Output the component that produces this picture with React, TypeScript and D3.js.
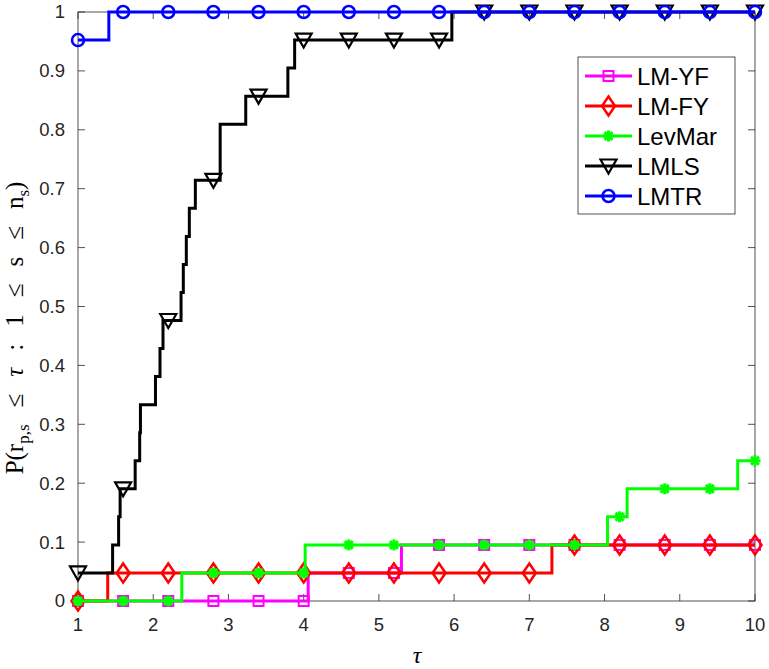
import React from "react";
import * as d3 from "d3";

// ---- data (step functions: value y[i] holds from x[i] to x[i+1]) ----
const seriesNames = ["LM-YF", "LM-FY", "LevMar", "LMLS", "LMTR"];
const seriesColors = ["#ff00ff", "#ff0000", "#00ff00", "#000000", "#0000ff"];
const seriesMarkers = ["square", "diamond", "star", "triangle", "circle"];

const lmyfX = [1, 4.06, 5.3, 10];
const lmyfY = [0, 0.0476, 0.0952, 0.0952];

const lmfyX = [1, 1.395, 7.3, 10];
const lmfyY = [0, 0.0476, 0.0952, 0.0952];

const levmarX = [1, 2.38, 4.02, 8.04, 8.3, 9.77, 10];
const levmarY = [0, 0.0476, 0.0952, 0.1429, 0.1905, 0.2381, 0.2381];

const lmlsX = [1, 1.46, 1.54, 1.56, 1.76, 1.82, 1.83, 2.03, 2.09, 2.13, 2.37, 2.4, 2.44, 2.48, 2.56, 2.89, 3.23, 3.79, 3.88, 5.97, 10];
const lmlsY = [0.0476, 0.0952, 0.1429, 0.1905, 0.2381, 0.2857, 0.3333, 0.381, 0.4286, 0.4762, 0.5238, 0.5714, 0.619, 0.6667, 0.7143, 0.8095, 0.8571, 0.9048, 0.9524, 1, 1];

const lmtrX = [1, 1.41, 10];
const lmtrY = [0.9524, 1, 1];

const allX = [lmyfX, lmfyX, levmarX, lmlsX, lmtrX];
const allY = [lmyfY, lmfyY, levmarY, lmlsY, lmtrY];

const markerTaus = [1, 1.6, 2.2, 2.8, 3.4, 4.0, 4.6, 5.2, 5.8, 6.4, 7.0, 7.6, 8.2, 8.8, 9.4, 10];
const xTicks = [1, 2, 3, 4, 5, 6, 7, 8, 9, 10];
const yTicks = [0, 0.1, 0.2, 0.3, 0.4, 0.5, 0.6, 0.7, 0.8, 0.9, 1];

// ---- layout ----
const W = 769;
const H = 669;
const left = 78;
const right = 755;
const top = 12;
const bottom = 601;

const x = d3.scaleLinear().domain([1, 10]).range([left, right]);
const y = d3.scaleLinear().domain([0, 1]).range([bottom, top]);

function stepValue(xs: number[], ys: number[], t: number) {
  let v = ys[0];
  for (let i = 0; i < xs.length; i++) {
    if (xs[i] <= t + 1e-9) v = ys[i];
  }
  return v;
}

function Marker({ type, cx, cy, color }: { type: string; cx: number; cy: number; color: string }) {
  const sw = 2;
  if (type === "square") {
    const s = 5;
    return <rect x={cx - s} y={cy - s} width={2 * s} height={2 * s} fill="none" stroke={color} strokeWidth={sw} />;
  }
  if (type === "diamond") {
    const w = 6.5, h = 9.5;
    return (
      <path d={`M${cx},${cy - h}L${cx + w},${cy}L${cx},${cy + h}L${cx - w},${cy}Z`} fill="none" stroke={color} strokeWidth={sw + 0.5} />
    );
  }
  if (type === "star") {
    const r = 5.5;
    const d = r * 0.72;
    return (
      <g stroke={color} strokeWidth={3}>
        <line x1={cx - r} y1={cy} x2={cx + r} y2={cy} />
        <line x1={cx} y1={cy - r} x2={cx} y2={cy + r} />
        <line x1={cx - d} y1={cy - d} x2={cx + d} y2={cy + d} />
        <line x1={cx - d} y1={cy + d} x2={cx + d} y2={cy - d} />
      </g>
    );
  }
  if (type === "triangle") {
    const w = 8, h = 6.5;
    return (
      <path d={`M${cx - w},${cy - h}L${cx + w},${cy - h}L${cx},${cy + h + 1}Z`} fill="none" stroke={color} strokeWidth={2.2} />
    );
  }
  return <circle cx={cx} cy={cy} r={6} fill="none" stroke={color} strokeWidth={2.5} />;
}

export default function App() {
  const line = d3
    .line<[number, number]>()
    .x((d) => x(d[0]))
    .y((d) => y(d[1]))
    .curve(d3.curveStepAfter);

  const tickLen = 7;
  const axisColor = "#262626";
  const sans = "'Liberation Sans', Arial, Helvetica, sans-serif";
  const serif = "'Liberation Serif', 'Times New Roman', serif";

  const legX = 578;
  const legY = 57;
  const legW = 157;
  const legH = 157;
  const rowH = 30;
  const gap = 17;

  return (
    <svg width={W} height={H} style={{ position: "absolute", left: 0, top: 0, background: "#fff" }}>
      <rect x={0} y={0} width={W} height={H} fill="#fff" />
      {/* axes box */}
      <rect x={left} y={top} width={right - left} height={bottom - top} fill="#fff" stroke={axisColor} strokeWidth={0.8} />
      {/* ticks */}
      {xTicks.map((t) => (
        <g key={"xt" + t}>
          <line x1={x(t)} x2={x(t)} y1={bottom} y2={bottom - tickLen} stroke={axisColor} strokeWidth={0.8} />
          <line x1={x(t)} x2={x(t)} y1={top} y2={top + tickLen} stroke={axisColor} strokeWidth={0.8} />
          <text x={x(t)} y={631} textAnchor="middle" fontFamily={sans} fontSize={18.5} fill="#262626">
            {t}
          </text>
        </g>
      ))}
      {yTicks.map((t) => (
        <g key={"yt" + t}>
          <line x1={left} x2={left + tickLen} y1={y(t)} y2={y(t)} stroke={axisColor} strokeWidth={0.8} />
          <line x1={right} x2={right - tickLen} y1={y(t)} y2={y(t)} stroke={axisColor} strokeWidth={0.8} />
          <text x={65} y={y(t)} dy="0.35em" textAnchor="end" fontFamily={sans} fontSize={18.5} fill="#262626">
            {String(t)}
          </text>
        </g>
      ))}

      {/* series */}
      {seriesNames.map((name, i) => {
        const pts: [number, number][] = allX[i].map((xv, j) => [xv, allY[i][j]]);
        return (
          <g key={name}>
            <path d={line(pts) || ""} fill="none" stroke={seriesColors[i]} strokeWidth={3} />
            {markerTaus.map((t) => (
              <Marker
                key={name + t}
                type={seriesMarkers[i]}
                cx={x(t)}
                cy={y(stepValue(allX[i], allY[i], t))}
                color={seriesColors[i]}
              />
            ))}
          </g>
        );
      })}

      {/* legend */}
      <rect x={legX} y={legY} width={legW} height={legH} fill="#fff" stroke={axisColor} strokeWidth={0.8} />
      {seriesNames.map((name, i) => {
        const cy = legY + 19 + i * rowH;
        return (
          <g key={"leg" + name}>
            <line x1={585} x2={632} y1={cy} y2={cy} stroke={seriesColors[i]} strokeWidth={3} />
            <Marker type={seriesMarkers[i]} cx={608.5} cy={cy} color={seriesColors[i]} />
            <text x={637} y={cy} dy="0.36em" fontFamily={sans} fontSize={24} fill="#000">
              {name}
            </text>
          </g>
        );
      })}

      {/* x label */}
      <text x={417} y={663} textAnchor="middle" fontFamily={serif} fontStyle="italic" fontSize={24} fill="#000">
        τ
      </text>

      {/* y label */}
      <text transform="translate(23,328) rotate(-90)" textAnchor="middle" fontFamily={serif} fontSize={25} fill="#000">
        <tspan>P(r</tspan>
        <tspan dy={6} fontSize={17}>p,s</tspan>
        <tspan dy={-6} dx={gap}>≤</tspan>
        <tspan dx={gap} fontStyle="italic">τ</tspan>
        <tspan dx={gap}>:</tspan>
        <tspan dx={gap}>1</tspan>
        <tspan dx={gap}>≤</tspan>
        <tspan dx={gap}>s</tspan>
        <tspan dx={gap}>≤</tspan>
        <tspan dx={gap}>n</tspan>
        <tspan dy={6} fontSize={17}>s</tspan>
        <tspan dy={-6}>)</tspan>
      </text>
    </svg>
  );
}
